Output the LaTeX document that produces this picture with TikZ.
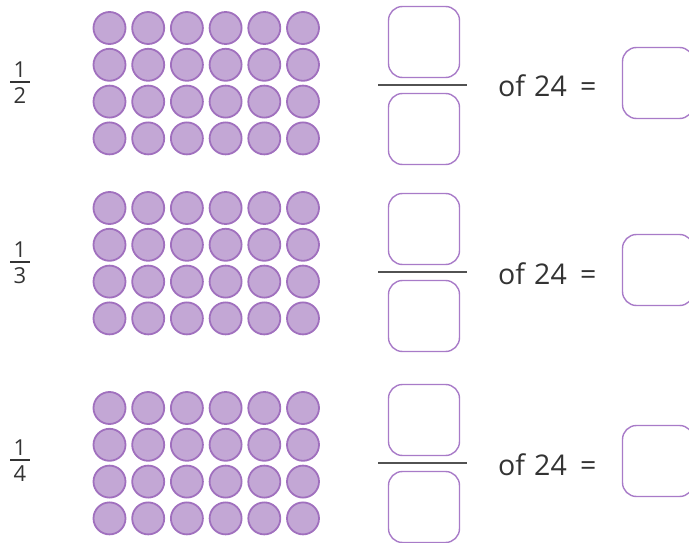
\documentclass[tikz,border=0pt]{standalone}
\usepackage{fontspec}
\setmainfont{Open Sans}
\definecolor{dotfill}{HTML}{C3A7D5}
\definecolor{dotline}{HTML}{A070BE}
\definecolor{boxline}{HTML}{A87BC8}
\definecolor{txt}{HTML}{333333}
\tikzset{
  dot/.style={circle, draw=dotline, fill=dotfill, line width=1.8pt, minimum size=32pt, inner sep=0pt},
  ansbox/.style={draw=boxline, line width=1.4pt, rounded corners=14pt, minimum width=71pt, minimum height=71pt, inner sep=0pt},
  smallnum/.style={text=txt, font=\fontsize{22}{22}\selectfont, inner sep=0pt},
  oftext/.style={text=txt, font=\fontsize{28.5}{28.5}\selectfont, inner sep=0pt, anchor=base west},
  fracbar/.style={draw=txt, line width=2pt},
  bigbar/.style={draw=txt!85, line width=1.8pt}
}
\begin{document}
\begin{tikzpicture}[x=1pt,y=-1pt]
\useasboundingbox (0,0) rectangle (689,543);
\clip (0,0) rectangle (689,543);
% groups: index, dot first row y, left bar y, right bar y, denominator
\foreach \g/\dy/\lb/\rb/\den in {1/28/82/85/2, 2/208/262/272/3, 3/408/460/463/4}{
  % dots
  \foreach \r in {0,...,3}{
    \foreach \c in {0,...,5}{
      \node[dot] (d\g-\r-\c) at ({109.5+38.7*\c},{\dy+36.8*\r}) {};
    }
  }
  % left fraction
  \node[smallnum] (n\g) at (20,{\lb-12}) {1};
  \node[smallnum] (m\g) at (20,{\lb+14}) {\den};
  \coordinate (lbl\g) at (10,\lb);
  \coordinate (lbr\g) at (30,\lb);
  \draw[fracbar] (lbl\g) -- (lbr\g);
  % right fraction boxes
  \node[ansbox] (top\g) at (424,{\rb-43}) {};
  \node[ansbox] (bot\g) at (424,{\rb+44}) {};
  \coordinate (rbl\g) at (378,\rb);
  \coordinate (rbr\g) at (467,\rb);
  \draw[bigbar] (rbl\g) -- (rbr\g);
  \node[oftext] (of\g) at (498,{\rb+12}) {of};
  \node[oftext] (tf\g) at (534,{\rb+12}) {24};
  \node[oftext] (eq\g) at (580,{\rb+12}) {=};
  \node[ansbox] (res\g) at (658,{\rb-2}) {};
}
\end{tikzpicture}
\end{document}
